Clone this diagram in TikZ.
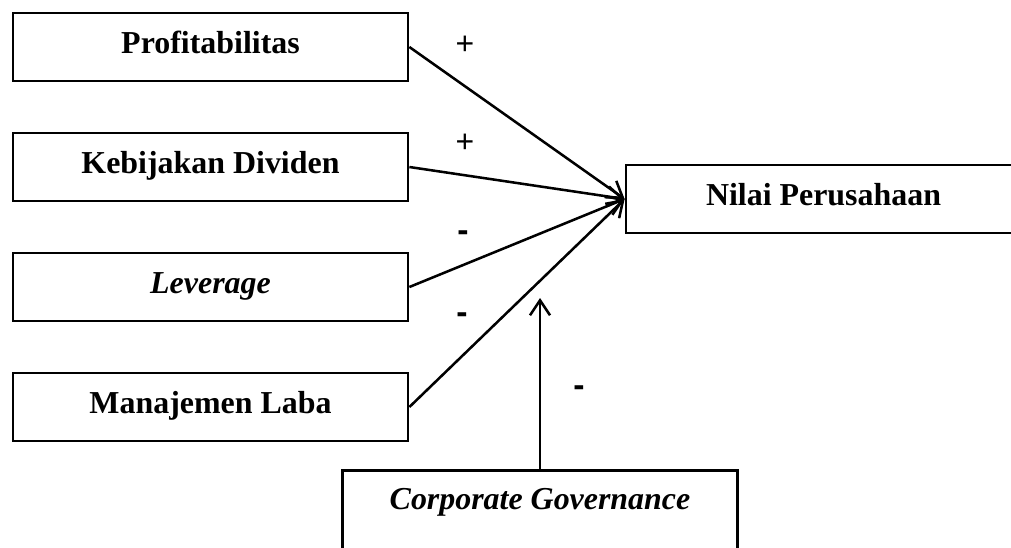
\documentclass[tikz,border=0pt]{standalone}
\usepackage{fontspec}
\setmainfont{Liberation Serif}
\newfontfamily\signfont{Liberation Sans}
\usetikzlibrary{arrows.meta,positioning}

\begin{document}
\begin{tikzpicture}[
  x=0.025cm, y=-0.025cm,
  font=\fontsize{22.7}{27}\selectfont\bfseries,
  var/.style={draw, line width=1.9pt, minimum width=9.875cm, minimum height=1.7cm,
    inner sep=0pt, text height=0.6cm, text depth=0.3cm},
  eff/.style={-{Straight Barb[length=3.75mm, width=5mm]}, line width=1.8pt},
  possign/.style={font=\signfont\fontsize{22.7}{27}\selectfont},
  negsign/.style={font=\signfont\fontsize{24}{27}\selectfont\bfseries}]
\useasboundingbox (0,0) rectangle (1011,547);
\node[var] (prof) at (210.5,47) {Profitabilitas};
\node[var] (div) at (210.5,167) {Kebijakan Dividen};
\node[var] (lev) at (210.5,287) {\textit{Leverage}};
\node[var] (ml) at (210.5,407) {Manajemen Laba};
\node[var] (nilai) at (823.5,199) {Nilai Perusahaan};
\node[var, anchor=north, text height=0.975cm, text depth=2.5cm] (cg) at (540,469) {\textit{Corporate Governance}};
\coordinate (mod) at (540,298);
\draw[eff] (prof.east) -- (nilai.west);
\draw[eff] (div.east) -- (nilai.west);
\draw[eff] (lev.east) -- (nilai.west);
\draw[eff] (ml.east) -- (nilai.west);
\draw[eff] (cg.north) -- (mod);
\node[possign] (s1) at (465,45) {+};
\node[possign] (s2) at (465,143) {+};
\node[negsign] (s3) at (463,236) {-};
\node[negsign] (s4) at (462,318) {-};
\node[negsign] (s5) at (579,391) {-};
\end{tikzpicture}
\end{document}
